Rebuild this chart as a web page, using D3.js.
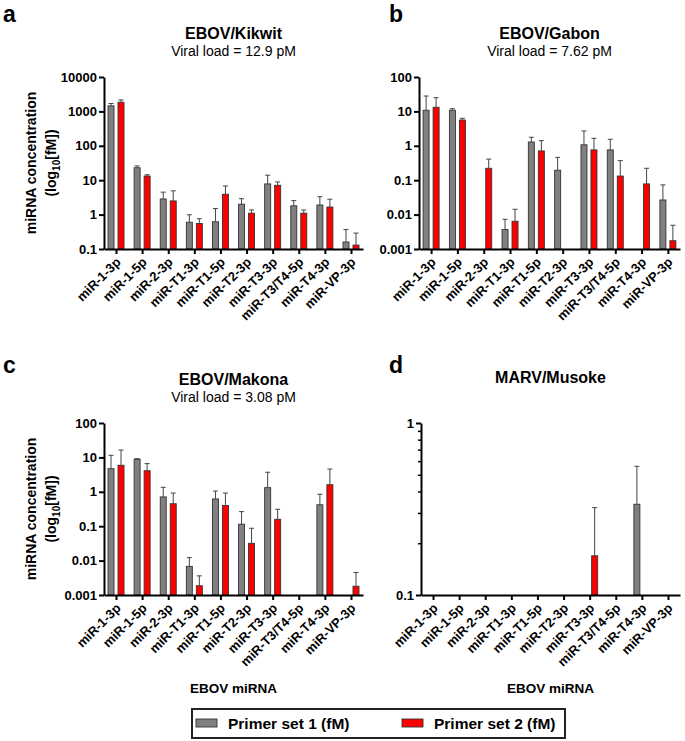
<!DOCTYPE html>
<html>
<head>
<meta charset="utf-8">
<script src="https://cdn.jsdelivr.net/npm/d3@7"></script>
<style>
  html, body { margin: 0; padding: 0; background: #fff; }
  svg { display: block; font-family: "Liberation Sans", Arial, sans-serif; }
</style>
</head>
<body>
<svg id="chart" width="685" height="741"></svg>
<script>
// ---------------- DATA ----------------
const categories = ["miR-1-3p", "miR-1-5p", "miR-2-3p", "miR-T1-3p", "miR-T1-5p",
  "miR-T2-3p", "miR-T3-3p", "miR-T3/T4-5p", "miR-T4-3p", "miR-VP-3p"];

const seriesNames = ["Primer set 1 (fM)", "Primer set 2 (fM)"];

// Panel a: EBOV/Kikwit
const kikwitSet1    = [1450, 23, 2.85, 0.60, 0.62, 2.0, 7.8, 1.8, 1.9, 0.16];
const kikwitSet1Err = [1700, 26, 4.5, 0.99, 1.5, 2.9, 14, 2.55, 3.3, 0.37];
const kikwitSet2    = [1850, 13.2, 2.5, 0.55, 3.9, 1.1, 7.1, 1.1, 1.66, 0.13];
const kikwitSet2Err = [2150, 14.4, 4.9, 0.76, 6.8, 1.36, 8.9, 1.36, 2.8, 0.29];

// Panel b: EBOV/Gabon
const gabonSet1    = [10.8, 10.8, null, 0.0037, 1.29, 0.195, 1.07, 0.76, null, 0.0266];
const gabonSet1Err = [28, 12, null, 0.0073, 1.77, 0.46, 2.7, 1.55, null, 0.073];
const gabonSet2    = [13.2, 5.6, 0.222, 0.0064, 0.71, null, 0.76, 0.132, 0.078, 0.00174];
const gabonSet2Err = [25, 6.3, 0.41, 0.0143, 1.41, null, 1.65, 0.37, 0.222, 0.0049];

// Panel c: EBOV/Makona
const makonaSet1    = [4.7, 8.8, 0.71, 0.0068, 0.62, 0.114, 1.32, null, 0.42, null];
const makonaSet1Err = [11.5, 9.2, 1.35, 0.0122, 1.05, 0.265, 3.7, null, 0.85, null];
const makonaSet2    = [5.9, 4.1, 0.45, 0.00186, 0.40, 0.0318, 0.159, null, 1.61, 0.0018];
const makonaSet2Err = [16.4, 6.6, 0.92, 0.0036, 0.92, 0.087, 0.31, null, 4.6, 0.0045];

// Panel d: MARV/Musoke
const marvSet1    = [null, null, null, null, null, null, null, null, 0.337, null];
const marvSet1Err = [null, null, null, null, null, null, null, null, 0.56, null];
const marvSet2    = [null, null, null, null, null, null, 0.169, null, null, null];
const marvSet2Err = [null, null, null, null, null, null, 0.322, null, null, null];

// Tick values
const ticksA = [0.1, 1, 10, 100, 1000, 10000];
const ticksB = [0.001, 0.01, 0.1, 1, 10, 100];
const ticksC = [0.001, 0.01, 0.1, 1, 10, 100];
const ticksD = [0.1, 1];
const minorTicksD = [0.2, 0.3, 0.4, 0.5, 0.6, 0.7, 0.8, 0.9];

// ---------------- DRAWING ----------------
const svg = d3.select("#chart");
svg.append("rect").attr("width", 685).attr("height", 741).attr("fill", "#fff");

const colors = ["#808080", "#ff0000"];
const FONT = '"Liberation Sans", Arial, sans-serif';

const panels = [
  { letter: "a", lx: 3, ly: 22, title: "EBOV/Kikwit", sub: "Viral load = 12.9 pM", ty: 39, sy: 56,
    x0: 104, x1: 363, yTop: 77, yBot: 249, domain: [0.1, 10000], ticks: ticksA,
    s1: kikwitSet1, e1: kikwitSet1Err, s2: kikwitSet2, e2: kikwitSet2Err, yTitle: true, xTitle: false },
  { letter: "b", lx: 389, ly: 22, title: "EBOV/Gabon", sub: "Viral load = 7.62 pM", ty: 39, sy: 56,
    x0: 419, x1: 680, yTop: 77, yBot: 249, domain: [0.001, 100], ticks: ticksB,
    s1: gabonSet1, e1: gabonSet1Err, s2: gabonSet2, e2: gabonSet2Err, yTitle: false, xTitle: false },
  { letter: "c", lx: 3, ly: 373, title: "EBOV/Makona", sub: "Viral load = 3.08 pM", ty: 385, sy: 402,
    x0: 104, x1: 363, yTop: 423, yBot: 595, domain: [0.001, 100], ticks: ticksC,
    s1: makonaSet1, e1: makonaSet1Err, s2: makonaSet2, e2: makonaSet2Err, yTitle: true, xTitle: true },
  { letter: "d", lx: 389, ly: 373, title: "MARV/Musoke", sub: null, ty: 383, sy: null,
    x0: 421, x1: 680, yTop: 423, yBot: 595, domain: [0.1, 1], ticks: ticksD, minor: minorTicksD,
    s1: marvSet1, e1: marvSet1Err, s2: marvSet2, e2: marvSet2Err, yTitle: false, xTitle: true }
];

const fmt = v => v >= 1 ? d3.format("d")(v) : String(v);

panels.forEach(p => {
  const g = svg.append("g");
  const x = d3.scalePoint().domain(categories).range([p.x0, p.x1]).padding(0.46);
  const y = d3.scaleLog().domain(p.domain).range([p.yBot, p.yTop]);
  const cx = (p.x0 + p.x1) / 2;

  // panel letter
  g.append("text").attr("x", p.lx).attr("y", p.ly)
    .attr("font-size", 23).attr("font-weight", "bold").attr("fill", "#000").text(p.letter);
  // title
  g.append("text").attr("x", cx).attr("y", p.ty).attr("text-anchor", "middle")
    .attr("font-size", 16).attr("font-weight", "bold").text(p.title);
  if (p.sub) {
    g.append("text").attr("x", cx).attr("y", p.sy).attr("text-anchor", "middle")
      .attr("font-size", 14).text(p.sub);
  }

  // bars
  const series = [[p.s1, p.e1, -5], [p.s2, p.e2, 5]];
  series.forEach((s, si) => {
    const [vals, errs, off] = s;
    categories.forEach((c, i) => {
      const v = vals[i];
      if (v == null) return;
      const bx = x(c) + off;
      const yt = y(v);
      g.append("rect")
        .attr("x", bx - 3).attr("y", yt)
        .attr("width", 6).attr("height", p.yBot - yt)
        .attr("fill", colors[si]).attr("stroke", "#333").attr("stroke-width", 0.9);
      const e = errs[i];
      if (e != null) {
        const ye = y(e);
        g.append("line").attr("x1", bx).attr("x2", bx).attr("y1", yt).attr("y2", ye)
          .attr("stroke", "#444").attr("stroke-width", 1);
        g.append("line").attr("x1", bx - 2.5).attr("x2", bx + 2.5).attr("y1", ye).attr("y2", ye)
          .attr("stroke", "#444").attr("stroke-width", 1);
      }
    });
  });

  // y axis
  const yAxis = d3.axisLeft(y).tickValues(p.ticks).tickFormat(fmt).tickSize(5).tickSizeOuter(0).tickPadding(2);
  const ya = g.append("g").attr("transform", `translate(${p.x0},0)`).call(yAxis);
  ya.select(".domain").attr("stroke", "#000").attr("stroke-width", 2);
  ya.selectAll(".tick line").attr("stroke", "#000").attr("stroke-width", 2);
  ya.selectAll(".tick text").attr("font-size", 13).attr("font-weight", "bold")
    .attr("font-family", FONT).attr("fill", "#000");
  if (p.minor) {
    const ym = d3.axisLeft(y).tickValues(p.minor).tickFormat("").tickSize(3).tickSizeOuter(0);
    const ymg = g.append("g").attr("transform", `translate(${p.x0},0)`).call(ym);
    ymg.select(".domain").remove();
    ymg.selectAll(".tick line").attr("stroke", "#000").attr("stroke-width", 1.5);
  }

  // x axis
  const xAxis = d3.axisBottom(x).tickSize(5).tickSizeOuter(0).tickPadding(2);
  const xa = g.append("g").attr("transform", `translate(0,${p.yBot})`).call(xAxis);
  xa.select(".domain").attr("stroke", "#000").attr("stroke-width", 2);
  xa.selectAll(".tick line").attr("stroke", "#000").attr("stroke-width", 2);
  xa.selectAll(".tick text")
    .attr("font-size", 13).attr("font-weight", "bold").attr("font-family", FONT).attr("fill", "#000")
    .attr("text-anchor", "end").attr("dy", 0).attr("y", 0)
    .attr("transform", "translate(5,14) rotate(-45)");

  // y title
  if (p.yTitle) {
    const my = (p.yTop + p.yBot) / 2;
    g.append("text").attr("transform", `translate(36,${my}) rotate(-90)`)
      .attr("text-anchor", "middle").attr("font-size", 14).attr("font-weight", "bold")
      .text("miRNA concentration");
    const t2 = g.append("text").attr("transform", `translate(56,${my}) rotate(-90)`)
      .attr("text-anchor", "middle").attr("font-size", 14).attr("font-weight", "bold");
    t2.append("tspan").text("(log");
    t2.append("tspan").attr("font-size", 10).attr("dy", 4).text("10");
    t2.append("tspan").attr("dy", -4).text("[fM])");
  }
  if (p.xTitle) {
    g.append("text").attr("x", cx).attr("y", 693).attr("text-anchor", "middle")
      .attr("font-size", 13.5).attr("font-weight", "bold").text("EBOV miRNA");
  }
});

// legend
const lg = svg.append("g");
lg.append("rect").attr("x", 192).attr("y", 709).attr("width", 373).attr("height", 29)
  .attr("fill", "#fff").attr("stroke", "#222").attr("stroke-width", 2);
const legendX = [196, 402];
seriesNames.forEach((n, i) => {
  lg.append("rect").attr("x", legendX[i]).attr("y", 719).attr("width", 21).attr("height", 8)
    .attr("fill", colors[i]).attr("stroke", "#333").attr("stroke-width", 0.9);
  lg.append("text").attr("x", legendX[i] + 32).attr("y", 729)
    .attr("font-size", 15.5).attr("font-weight", "bold").text(n);
});
</script>
</body>
</html>
